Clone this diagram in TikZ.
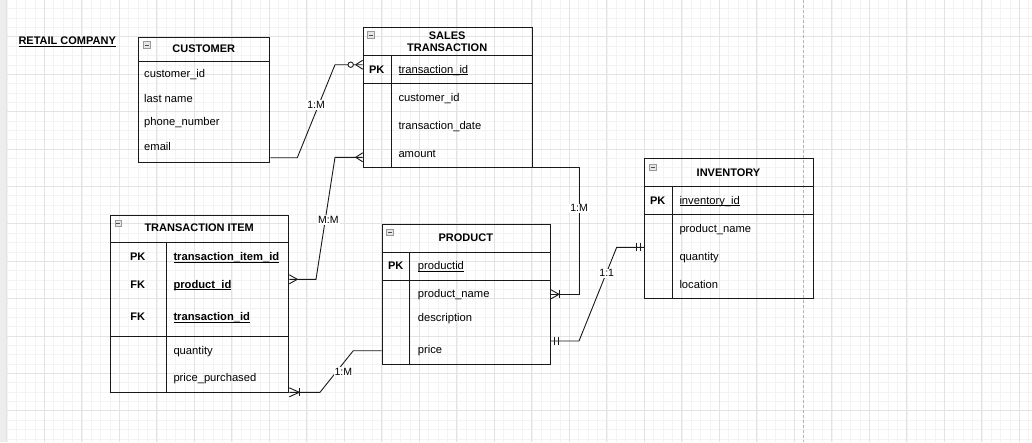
\documentclass[tikz,border=0pt]{standalone}
\usepackage{fontspec}
\setmainfont{Liberation Sans}
\usetikzlibrary{calc}
\definecolor{minorg}{HTML}{F3F3F3}
\definecolor{majorg}{HTML}{E3E3E3}
\definecolor{pageline}{HTML}{B5B5B5}
\definecolor{iconfill}{HTML}{E6E6E6}
\definecolor{iconline}{HTML}{9A9A9A}
\definecolor{linec}{HTML}{1A1A1A}
\newcommand\ulx[1]{\setbox0=\hbox{#1}\rlap{\rule[-1.8pt]{\wd0}{0.8pt}}\box0}
\newcommand\crowx[2]{\draw[conn] ($(#1)+(#2,0)$) -- ($(#1)+(0,4.5)$) ($(#1)+(#2,0)$) -- ($(#1)+(0,-4.5)$);}
\newcommand\barx[2]{\draw[conn] ($(#1)+(#2,-4)$) -- ($(#1)+(#2,4)$);}
\begin{document}
\begin{tikzpicture}[x=1pt,y=-1pt,
  every node/.style={font=\fontsize{11.2}{13}\selectfont, inner sep=0pt},
  ent/.style={draw=linec, line width=1pt, rectangle, inner sep=0pt, anchor=north west},
  sepl/.style={draw=linec, line width=1pt},
  fld/.style={anchor=base west},
  key/.style={anchor=base, font=\fontsize{11}{13}\selectfont\bfseries},
  ttl/.style={anchor=base, font=\fontsize{11}{13}\selectfont\bfseries},
  conn/.style={draw=linec, line width=0.9pt},
  lbl/.style={fill=white, font=\fontsize{10.5}{12}\selectfont, inner sep=1pt},
  icon/.style={draw=iconline, fill=iconfill, minimum size=6.5pt, line width=0.6pt,
    path picture={\draw[black!70, line width=0.8pt] ([xshift=1.4pt]path picture bounding box.west) -- ([xshift=-1.4pt]path picture bounding box.east);}},
  minorl/.style={draw=minorg, line width=0.5pt},
  majorl/.style={draw=majorg, line width=0.7pt}
]
\useasboundingbox (0,0) rectangle (1032,442);
\fill[white] (0,0) rectangle (1032,442);
% grid
\foreach \k in {0,...,111} {\draw[minorl] ({-2.575+9.375*\k},0) -- ({-2.575+9.375*\k},442);}
\foreach \k in {0,...,48} {\draw[minorl] (0,{-0.7+9.35*\k}) -- (1032,{-0.7+9.35*\k});}
\foreach \k in {0,...,27} {\draw[majorl] ({6.8+37.5*\k},0) -- ({6.8+37.5*\k},442);}
\foreach \k in {0,...,12} {\draw[majorl] (0,{-0.7+37.4*\k}) -- (1032,{-0.7+37.4*\k});}
\fill[black!7] (0,0) rectangle (5.5,442);
\draw[pageline, line width=0.7pt, dash pattern=on 3pt off 2pt] (803.3,0) -- (803.3,442);

% title
\node[anchor=base west, font=\fontsize{11}{13}\selectfont\bfseries] (title) at (18.3,44.7) {\ulx{RETAIL COMPANY}};

% CUSTOMER
\node[ent, minimum width=131pt, minimum height=125.6pt] (cust) at (138.3,36.7) {};
\draw[sepl] (cust.west |- 0,61.3) -- (cust.east |- 0,61.3);
\node[icon] (custi) at (146.7,45) {};
\node[ttl] (custt) at (203.8,52) {CUSTOMER};
\node[fld] (cust1) at (144,77.3) {customer\_id};
\node[fld] (cust2) at (144,102) {last name};
\node[fld] (cust3) at (144,125.7) {phone\_number};
\node[fld] (cust4) at (144,150.7) {email};

% SALES TRANSACTION
\node[ent, minimum width=169pt, minimum height=140pt] (sales) at (362.7,27.3) {};
\draw[sepl] (sales.west |- 0,55.3) -- (sales.east |- 0,55.3);
\draw[sepl] (sales.west |- 0,83.3) -- (sales.east |- 0,83.3);
\draw[sepl] (391.3,55.3) -- (391.3,0 |- sales.south);
\node[icon] (salesi) at (370.7,35) {};
\node[ttl] (salest1) at (447.2,39) {SALES};
\node[ttl] (salest2) at (447.2,51.3) {TRANSACTION};
\node[key] (salesk) at (376.7,73.3) {PK};
\node[fld] (sales1) at (398.3,73.3) {\ulx{transaction\_id}};
\node[fld] (sales2) at (398.3,101.3) {customer\_id};
\node[fld] (sales3) at (398.3,129.3) {transaction\_date};
\node[fld] (sales4) at (398.3,157.3) {amount};

% TRANSACTION ITEM
\node[ent, minimum width=178.3pt, minimum height=177.3pt] (ti) at (110,215) {};
\draw[sepl] (ti.west |- 0,242.3) -- (ti.east |- 0,242.3);
\draw[sepl] (ti.west |- 0,336) -- (ti.east |- 0,336);
\draw[sepl] (166.3,242.3) -- (166.3,0 |- ti.south);
\node[icon] (tii) at (118.3,223.3) {};
\node[ttl] (tit) at (199.2,231.7) {TRANSACTION ITEM};
\node[key] (tik1) at (137.7,260.7) {PK};
\node[key] (tik2) at (137.7,288.3) {FK};
\node[key] (tik3) at (137.7,320.7) {FK};
\node[fld] (ti1) at (173.3,260.7) {\bfseries\ulx{transaction\_item\_id}};
\node[fld] (ti2) at (173.3,288.3) {\bfseries\ulx{product\_id}};
\node[fld] (ti3) at (173.3,320.7) {\bfseries\ulx{transaction\_id}};
\node[fld] (ti4) at (173.3,354) {quantity};
\node[fld] (ti5) at (173.3,381.7) {price\_purchased};

% PRODUCT
\node[ent, minimum width=168.3pt, minimum height=140pt] (prod) at (381.7,224) {};
\draw[sepl] (prod.west |- 0,252.3) -- (prod.east |- 0,252.3);
\draw[sepl] (prod.west |- 0,280.3) -- (prod.east |- 0,280.3);
\draw[sepl] (409.7,252.3) -- (409.7,0 |- prod.south);
\node[icon] (prodi) at (390,232.3) {};
\node[ttl] (prodt) at (465.8,241.3) {PRODUCT};
\node[key] (prodk) at (395.7,269.7) {PK};
\node[fld] (prod1) at (417.7,269.7) {\ulx{productid}};
\node[fld] (prod2) at (417.7,297.3) {product\_name};
\node[fld] (prod3) at (417.7,321.3) {description};
\node[fld] (prod4) at (417.7,353.3) {price};

% INVENTORY
\node[ent, minimum width=168.4pt, minimum height=140pt] (inv) at (644.3,158.3) {};
\draw[sepl] (inv.west |- 0,186) -- (inv.east |- 0,186);
\draw[sepl] (inv.west |- 0,214.3) -- (inv.east |- 0,214.3);
\draw[sepl] (672.3,186) -- (672.3,0 |- inv.south);
\node[icon] (invi) at (652.7,167.3) {};
\node[ttl] (invt) at (728.5,176) {INVENTORY};
\node[key] (invk) at (657.7,204) {PK};
\node[fld] (inv1) at (679.3,204) {\ulx{inventory\_id}};
\node[fld] (inv2) at (679.3,232) {product\_name};
\node[fld] (inv3) at (679.3,260) {quantity};
\node[fld] (inv4) at (679.3,288) {location};

% connector end points
\coordinate (e1a) at (cust.east |- 0,157.7);
\coordinate (e1b) at (sales.west |- 0,64.7);
\coordinate (e2a) at (ti.east |- 0,279.3);
\coordinate (e2b) at (sales.west |- 0,157.3);
\coordinate (e3a) at (sales.east |- 0,167.3);
\coordinate (e3b) at (prod.east |- 0,294.3);
\coordinate (e4a) at (ti.east |- 0,392.3);
\coordinate (e4b) at (prod.west |- 0,350.7);
\coordinate (e5a) at (prod.east |- 0,341);
\coordinate (e5b) at (inv.west |- 0,247.3);

% 1: customer - sales (1:M)
\draw[conn] (e1a) -- (297.3,157.7) -- (335,64.7) -- (e1b);
\crowx{e1b}{-7}
\draw[conn, fill=white] (350.7,64.7) circle (2.7pt);
% 2: transaction item - sales (M:M)
\draw[conn] (e2a) -- (316,279.3) -- (335,157.3) -- (e2b);
\crowx{e2a}{8}
\crowx{e2b}{-7}
% 3: sales - product (1:M)
\draw[conn] (e3a) -- (579,167.3) -- (579,294.3) -- (e3b);
\crowx{e3b}{8}
\barx{e3b}{8}
% 4: transaction item - product (1:M)
\draw[conn] (e4a) -- (320,392.3) -- (353.3,350.7) -- (e4b);
\crowx{e4a}{10}
\barx{e4a}{10.5}
% 5: product - inventory (1:1)
\draw[conn] (e5a) -- (579,341) -- (616.7,247.3) -- (e5b);
\barx{e5a}{3.5}
\barx{e5a}{7.3}
\barx{e5b}{-3.8}
\barx{e5b}{-7.6}

% labels
\node[lbl] (l1) at (316,105) {1:M};
\node[lbl] (l2) at (328.3,220) {M:M};
\node[lbl] (l3) at (579,208.3) {1:M};
\node[lbl] (l4) at (343.3,371.7) {1:M};
\node[lbl] (l5) at (606.7,273.3) {1:1};
\end{tikzpicture}
\end{document}
